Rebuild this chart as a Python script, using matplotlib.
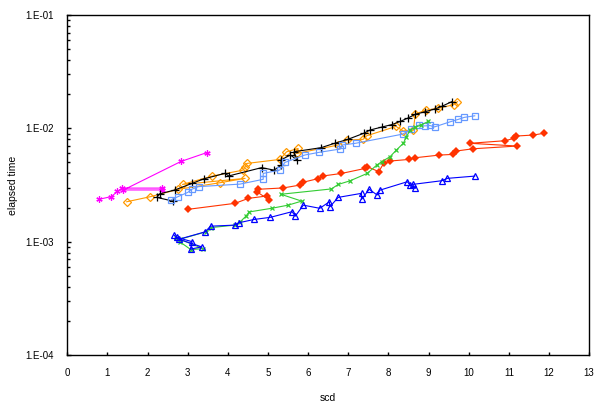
import matplotlib
matplotlib.use("Agg")
import matplotlib.pyplot as plt
from matplotlib.ticker import FixedLocator, LogLocator, NullFormatter

plt.rcParams['font.family'] = ['Liberation Sans', 'DejaVu Sans']

# series (scd, elapsed time)
mag_x = [0.80, 1.10, 1.25, 1.37, 2.35, 2.35, 1.40, 2.83, 3.47]
mag_y = [2.37e-3, 2.5e-3, 2.78e-3, 2.97e-3, 2.97e-3, 2.86e-3, 2.86e-3, 5.1e-3, 6.1e-3]

org_x = [1.48, 2.06, 2.77, 3.80, 4.43, 2.87, 3.61, 4.38, 4.43, 4.47, 5.30, 5.46, 5.75,
         5.71, 6.75, 6.96, 7.37, 7.46, 8.19, 8.36, 8.62, 8.67, 8.94, 9.24, 9.63, 9.72]
org_y = [2.25e-3, 2.49e-3, 2.9e-3, 3.31e-3, 3.62e-3, 3.2e-3, 3.79e-3, 4.28e-3, 4.58e-3,
         4.9e-3, 5.32e-3, 6.2e-3, 6.65e-3, 6.0e-3, 7.13e-3, 7.88e-3, 8.0e-3, 8.6e-3,
         1.04e-2, 9.5e-3, 9.6e-3, 1.34e-2, 1.45e-2, 1.5e-2, 1.62e-2, 1.72e-2]

blk_x = [2.63, 2.23, 2.30, 2.68, 3.11, 3.40, 3.93, 4.02, 4.84, 5.15, 5.33, 5.32, 5.56,
         5.72, 5.65, 6.32, 6.66, 6.99, 7.38, 7.54, 7.85, 8.09, 8.29, 8.48, 8.67, 8.91,
         9.15, 9.34, 9.58]
blk_y = [2.28e-3, 2.46e-3, 2.64e-3, 2.86e-3, 3.27e-3, 3.58e-3, 4.01e-3, 3.8e-3, 4.5e-3,
         4.28e-3, 4.74e-3, 5.26e-3, 5.82e-3, 5.26e-3, 6.22e-3, 6.75e-3, 7.38e-3, 8.0e-3,
         9.03e-3, 9.66e-3, 1.03e-2, 1.08e-2, 1.15e-2, 1.23e-2, 1.33e-2, 1.4e-2, 1.48e-2,
         1.57e-2, 1.72e-2]

lb_x = [2.58, 2.75, 3.00, 3.10, 3.27, 4.30, 4.88, 4.88, 5.29, 5.42, 5.92, 6.27, 6.80,
        6.85, 7.18, 8.36, 8.55, 8.76, 8.90, 9.03, 9.15, 9.53, 9.74, 9.89, 10.15]
lb_y = [2.33e-3, 2.49e-3, 2.72e-3, 2.9e-3, 3.06e-3, 3.22e-3, 3.55e-3, 4.0e-3, 4.28e-3,
        5.0e-3, 5.82e-3, 6.14e-3, 6.57e-3, 7.13e-3, 7.38e-3, 8.9e-3, 9.8e-3, 1.07e-2,
        1.05e-2, 1.06e-2, 1.03e-2, 1.14e-2, 1.2e-2, 1.25e-2, 1.29e-2]

red_x = [3.01, 4.18, 4.51, 4.97, 5.03, 4.72, 4.76, 5.38, 5.80, 5.88, 6.25, 6.37, 6.83,
         7.42, 7.47, 7.76, 7.88, 8.05, 8.52, 8.66, 9.27, 9.61, 9.68, 10.10, 11.21, 10.03,
         10.91, 11.13, 11.18, 11.61, 11.87]
red_y = [1.93e-3, 2.18e-3, 2.41e-3, 2.53e-3, 2.33e-3, 2.76e-3, 2.9e-3, 2.98e-3, 3.16e-3,
         3.35e-3, 3.6e-3, 3.8e-3, 4.0e-3, 4.43e-3, 4.59e-3, 4.15e-3, 4.9e-3, 5.15e-3,
         5.32e-3, 5.5e-3, 5.81e-3, 5.89e-3, 6.3e-3, 6.6e-3, 6.98e-3, 7.38e-3, 7.78e-3,
         8.17e-3, 8.55e-3, 8.73e-3, 9.04e-3]

grn_x = [2.70, 2.80, 3.08, 3.38, 2.80, 3.45, 3.57, 4.17, 4.31, 4.45, 4.53, 5.09, 5.50,
         5.84, 5.32, 6.58, 6.75, 7.04, 7.47, 7.71, 7.83, 8.04, 8.20, 8.37, 8.45, 8.54,
         8.67, 8.81, 8.99]
grn_y = [1.08e-3, 1.0e-3, 8.5e-4, 8.7e-4, 1.05e-3, 1.22e-3, 1.33e-3, 1.4e-3, 1.5e-3,
         1.68e-3, 1.83e-3, 1.97e-3, 2.1e-3, 2.28e-3, 2.62e-3, 2.92e-3, 3.2e-3, 3.44e-3,
         4.0e-3, 4.74e-3, 5.07e-3, 5.62e-3, 6.44e-3, 7.38e-3, 8.43e-3, 9.66e-3, 1.02e-2,
         1.07e-2, 1.15e-2]

blu_x = [2.65, 2.73, 3.11, 3.07, 3.35, 2.78, 3.43, 3.57, 4.17, 4.28, 4.65, 5.06, 5.60,
         5.68, 5.88, 6.29, 6.53, 6.54, 6.75, 7.33, 7.33, 7.52, 7.72, 7.79, 8.47, 8.54,
         8.67, 8.60, 9.33, 9.47, 10.15]
blu_y = [1.15e-3, 1.09e-3, 1.0e-3, 8.6e-4, 9.0e-4, 1.05e-3, 1.22e-3, 1.37e-3, 1.4e-3,
         1.47e-3, 1.57e-3, 1.64e-3, 1.84e-3, 1.68e-3, 2.1e-3, 1.97e-3, 2.25e-3, 2.03e-3,
         2.46e-3, 2.67e-3, 2.36e-3, 2.9e-3, 2.58e-3, 2.85e-3, 3.38e-3, 3.16e-3, 2.95e-3,
         3.2e-3, 3.45e-3, 3.62e-3, 3.79e-3]

fig = plt.figure(figsize=(6.03, 4.09), dpi=100)
ax = fig.add_axes([0.1116, 0.132, 0.8654, 0.8313])

lw = 0.8
ax.plot(mag_x, mag_y, color='#FF00FF', lw=lw, marker=(6, 2, 0), ms=4.5, mew=0.9)
ax.plot(org_x, org_y, color='#FF9900', lw=lw, marker='D', ms=4, mfc='none', mew=0.9)
ax.plot(blk_x, blk_y, color='black', lw=lw, marker='+', ms=5.5, mew=0.9)
ax.plot(lb_x, lb_y, color='#6699FF', lw=lw, marker='s', ms=4.8, mfc='none', mew=0.9)
ax.plot(red_x, red_y, color='#FF3300', lw=lw, marker='D', ms=4.5, mew=0)
ax.plot(grn_x, grn_y, color='#33CC33', lw=lw, marker='x', ms=3.5, mew=0.9)
ax.plot(blu_x, blu_y, color='#0000FF', lw=lw, marker='^', ms=5, mfc='none', mew=0.9)

ax.set_yscale('log')
ax.set_xlim(0, 13)
ax.set_ylim(1e-4, 1e-1)
ax.xaxis.set_major_locator(FixedLocator(range(0, 14)))
ax.yaxis.set_major_locator(FixedLocator([1e-4, 1e-3, 1e-2, 1e-1]))
ax.yaxis.set_minor_locator(LogLocator(base=10, subs=range(2, 10)))
ax.yaxis.set_minor_formatter(NullFormatter())
ax.set_yticklabels(['1.E-04', '1.E-03', '1.E-02', '1.E-01'])

ax.tick_params(axis='both', which='major', direction='in', labelsize=7, width=1)
ax.tick_params(axis='x', length=2.5, pad=9)
ax.tick_params(axis='y', which='major', length=3, pad=10)
ax.tick_params(axis='y', which='minor', direction='in', length=2, width=1)
for s in ax.spines.values():
    s.set_linewidth(1)

ax.set_xlabel('scd', fontsize=7.5, labelpad=11)
ax.set_ylabel('elapsed time', fontsize=7.5, labelpad=5)

fig.savefig('out.png', dpi=100)
